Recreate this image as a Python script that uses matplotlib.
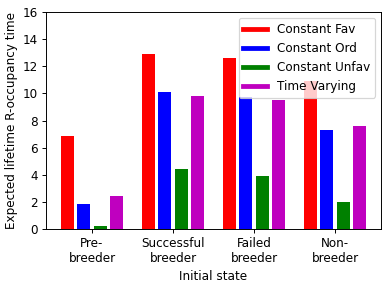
import numpy as np
import matplotlib
matplotlib.use('Agg')
import matplotlib.pyplot as plt
from matplotlib.lines import Line2D

states = ['Pre-\nbreeder', 'Successful\nbreeder', 'Failed\nbreeder', 'Non-\nbreeder']
series = ['Constant Fav', 'Constant Ord', 'Constant Unfav', 'Time Varying']
colors = ['r', 'b', 'g', 'm']

const_fav = [6.85, 12.9, 12.6, 10.9]
const_ord = [1.85, 10.1, 9.7, 7.3]
const_unfav = [0.22, 4.4, 3.9, 2.0]
time_varying = [2.45, 9.8, 9.5, 7.6]

values = [const_fav, const_ord, const_unfav, time_varying]

DPI = 86.4
fig = plt.figure(figsize=(391/DPI, 288/DPI), dpi=DPI)
ax = fig.add_axes([46/391, 59/288, 335/391, 217/288])

x = np.arange(len(states))
offsets = [-0.3, -0.1, 0.1, 0.3]
for vals, off, c in zip(values, offsets, colors):
    ax.bar(x + off, vals, width=0.16, color=c)

ax.set_ylim(0, 16)
ax.set_yticks(np.arange(0, 17, 2))
ax.set_xticks(x)
ax.set_xticklabels(states)
ax.set_xlabel('Initial state')
ax.set_ylabel('Expected lifetime R-occupancy time')

handles = [Line2D([0], [0], color=c, lw=4) for c in colors]
ax.legend(handles, series, loc='upper right')

fig.savefig('out.png', dpi=DPI)
